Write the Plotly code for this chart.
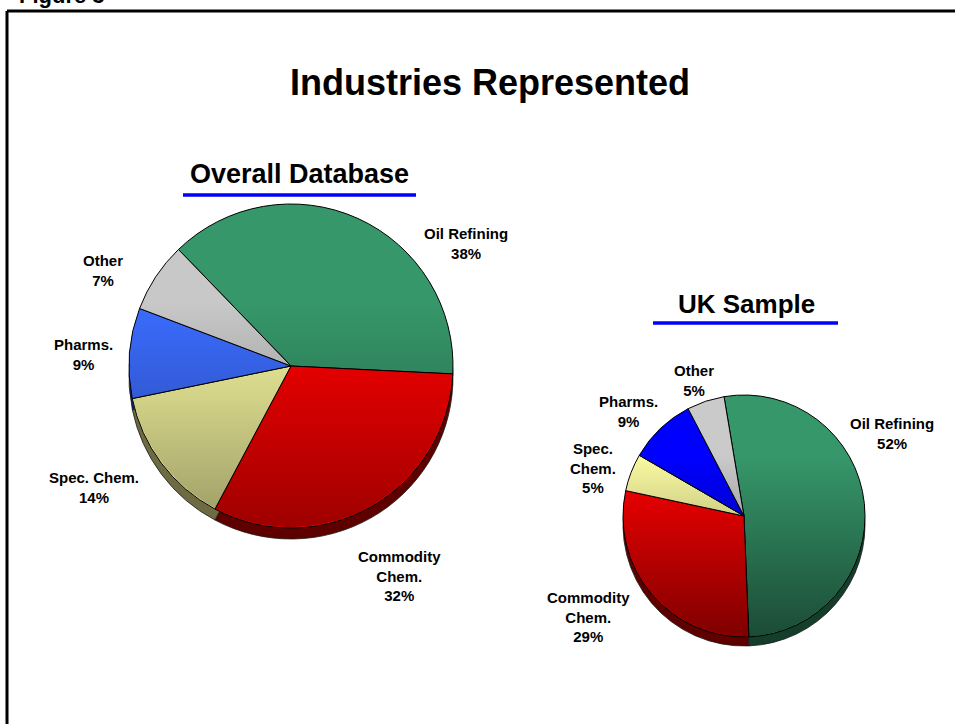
import base64
import plotly.graph_objects as go

W, H = 955, 724

# ---- data ----
categories = ["Oil Refining", "Commodity Chem.", "Spec. Chem.", "Pharms.", "Other"]
overall_pct = [38, 32, 14, 9, 7]
uk_pct = [52, 29, 5, 9, 5]

overall_labels = ["Oil Refining", "Commodity<br>Chem.", "Spec. Chem.", "Pharms.", "Other"]
uk_labels = ["Oil Refining", "Commodity<br>Chem.", "Spec.<br>Chem.", "Pharms.", "Other"]

# ---- styling ----
overall_colors = ["#36976a", "#ff0000", "#fafaa2", "#3b6cff", "#c8c8c8"]
uk_colors = ["#36976a", "#ff0000", "#fafaa2", "#0000ff", "#cacaca"]
side_colors = ["#143d2a", "#5e0000", "#6e6a42", "#121f66", "#5a5a5a"]

FONT = "Liberation Sans, Arial, sans-serif"


def px_domain(cx, cy, r):
    return dict(x=[(cx - r) / W, (cx + r) / W],
                y=[1 - (cy + r) / H, 1 - (cy - r) / H])


def px_x(x):
    return x / W


def px_y(y):
    return 1 - y / H


def shade_disc(start, dark):
    """Round overlay that darkens a pie face towards its bottom."""
    svg = (
        '<svg xmlns="http://www.w3.org/2000/svg" width="200" height="200" '
        'viewBox="0 0 200 200"><defs><linearGradient id="g" x1="0" y1="0" '
        'x2="0" y2="1">'
        f'<stop offset="{start}" stop-color="#000" stop-opacity="0"/>'
        f'<stop offset="1" stop-color="#000" stop-opacity="{dark}"/>'
        '</linearGradient></defs><circle cx="100" cy="100" r="99.5" '
        'fill="url(#g)"/></svg>'
    )
    return "data:image/svg+xml;base64," + base64.b64encode(svg.encode()).decode()


pies = [
    # (values, colours, rotation, centre x, centre y, radius, depth, shading)
    (overall_pct, overall_colors, -44, 291, 366, 162, 11, (0.3, 0.38)),
    (uk_pct, uk_colors, -9.5, 744, 516, 121, 9, (0.25, 0.5)),
]

fig = go.Figure()
images = []
for vals, cols, rot, cx, cy, r, depth, shade in pies:
    # darker copy underneath gives the pie its edge thickness
    fig.add_trace(go.Pie(
        labels=categories, values=vals, sort=False, direction="clockwise",
        rotation=rot, textinfo="none", hoverinfo="skip", showlegend=False,
        marker=dict(colors=side_colors, line=dict(color="#1a1a1a", width=0.8)),
        domain=px_domain(cx, cy + depth, r),
    ))
    fig.add_trace(go.Pie(
        labels=categories, values=vals, sort=False, direction="clockwise",
        rotation=rot, textinfo="none", showlegend=False,
        marker=dict(colors=cols, line=dict(color="#000000", width=1)),
        domain=px_domain(cx, cy, r),
    ))
    images.append(dict(
        source=shade_disc(*shade), xref="paper", yref="paper",
        x=px_x(cx - r), y=px_y(cy - r), sizex=2 * r / W, sizey=2 * r / H,
        xanchor="left", yanchor="top", sizing="stretch", layer="above",
    ))

annotations = []


def add_text(text, x, y, size, color="#000000"):
    annotations.append(dict(
        text=text, x=px_x(x), y=px_y(y), xref="paper", yref="paper",
        xanchor="center", yanchor="middle", showarrow=False,
        font=dict(family=FONT, size=size, color=color),
    ))


add_text("<b>Figure 3</b>", 62, -4, 22)
add_text("<b>Industries Represented</b>", 490, 83, 36)
add_text("<b>Overall Database</b>", 299, 174, 27)
add_text("<b>UK Sample</b>", 746, 304, 26)

overall_label_pos = [(466, 243), (399, 576), (94, 487), (83, 354), (103, 270)]
uk_label_pos = [(892, 433), (588, 617), (593, 468), (628, 411), (694, 380)]

for names, vals, positions in [(overall_labels, overall_pct, overall_label_pos),
                               (uk_labels, uk_pct, uk_label_pos)]:
    for name, v, (x, y) in zip(names, vals, positions):
        add_text(f"<b>{name}<br>{v}%</b>", x, y, 15)

shapes = [
    # frame
    dict(type="line", xref="paper", yref="paper", x0=px_x(7), x1=px_x(W + 2),
         y0=px_y(11), y1=px_y(11), line=dict(color="#000000", width=3)),
    dict(type="line", xref="paper", yref="paper", x0=px_x(7), x1=px_x(7),
         y0=px_y(11), y1=px_y(H + 2), line=dict(color="#000000", width=3)),
    # subtitle underlines
    dict(type="line", xref="paper", yref="paper", x0=px_x(183), x1=px_x(416),
         y0=px_y(195), y1=px_y(195), line=dict(color="#0000ff", width=3.5)),
    dict(type="line", xref="paper", yref="paper", x0=px_x(653), x1=px_x(838),
         y0=px_y(323), y1=px_y(323), line=dict(color="#0000ff", width=3.5)),
]

fig.update_layout(
    width=W, height=H, margin=dict(l=0, r=0, t=0, b=0),
    paper_bgcolor="#ffffff", plot_bgcolor="#ffffff",
    font=dict(family=FONT, color="#000000"),
    annotations=annotations, shapes=shapes, images=images,
)

fig.write_html("out.html")
